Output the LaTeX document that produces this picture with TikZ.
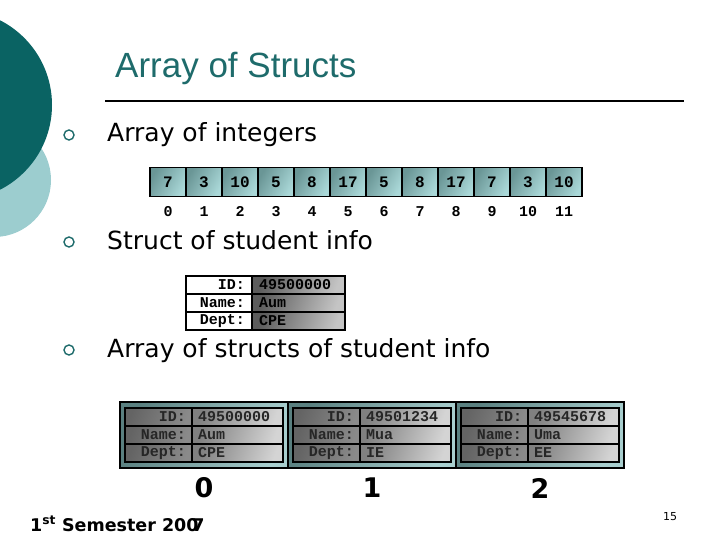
\documentclass[tikz,border=0pt]{standalone}
\usepackage{fontspec}
\setmainfont{DejaVu Sans}
\newfontfamily\titlef{Liberation Sans}
\newfontfamily\monof{Liberation Mono}
\definecolor{darkteal}{HTML}{0A6363}
\definecolor{lightteal}{HTML}{9CCDCF}
\definecolor{titleteal}{HTML}{1E6B6B}
\definecolor{celldark}{HTML}{6A9696}
\definecolor{celllight}{HTML}{AAD8D8}
\definecolor{graydark}{HTML}{5C5C5C}
\definecolor{graylight}{HTML}{C4C4C4}
\definecolor{labdark}{HTML}{646464}
\definecolor{lablight}{HTML}{8A8A8A}
\definecolor{valdark}{HTML}{808080}
\definecolor{vallight}{HTML}{D4D4D4}
\definecolor{framedark}{HTML}{5A8080}
\definecolor{framelight}{HTML}{A8CECE}
\definecolor{txtdark}{HTML}{262626}
\tikzset{
  bulletdot/.style={circle, draw=titleteal, line width=1.4pt, minimum size=10pt, inner sep=0pt},
  bullettext/.style={anchor=base west, inner sep=0pt, font=\fontsize{25}{30}\selectfont},
  intcell/.style={draw, line width=1.5pt, minimum width=36pt, minimum height=29pt, inner sep=0pt,
    left color=celldark, right color=celllight, shading angle=60,
    font=\monof\bfseries\fontsize{16}{16}\selectfont},
  idxtext/.style={anchor=base, inner sep=0pt, font=\monof\bfseries\fontsize{15}{15}\selectfont},
  slab/.style={draw, line width=1.5pt, fill=white, minimum height=18pt, inner ysep=0pt, inner xsep=7pt,
    text width=#1, align=right, font=\monof\bfseries\fontsize{15}{15}\selectfont},
  sval/.style={draw, line width=1.5pt, minimum height=18pt, inner ysep=0pt, inner xsep=7pt,
    left color=graydark, right color=graylight, shading angle=70,
    text width=#1, align=left, font=\monof\bfseries\fontsize{15}{15}\selectfont},
  alab/.style={draw, line width=1.5pt, minimum height=18pt, inner ysep=0pt, inner xsep=6pt,
    left color=labdark, right color=lablight, shading angle=70, text=txtdark,
    text width=#1, align=right, font=\monof\bfseries\fontsize{15}{15}\selectfont},
  aval/.style={draw, line width=1.5pt, minimum height=18pt, inner ysep=0pt, inner xsep=6pt,
    left color=valdark, right color=vallight, shading angle=70, text=txtdark,
    text width=#1, align=left, font=\monof\bfseries\fontsize{15}{15}\selectfont},
  sframe/.style={draw, line width=1.5pt, minimum width=168pt, minimum height=66pt, inner sep=0pt,
    left color=framedark, right color=framelight, shading angle=70},
  bignum/.style={inner sep=0pt, font=\bfseries\fontsize{27}{30}\selectfont}
}
\begin{document}
\begin{tikzpicture}[x=1pt,y=-1pt]
\useasboundingbox (0,0) rectangle (720,540);
\begin{scope}
\clip (0,0) rectangle (720,540);
\fill[lightteal] (-6,180) circle[radius=57pt];
\fill[darkteal] (-43,105) circle[radius=95pt];
\end{scope}

% title
\node[anchor=base west, inner sep=0pt, text=titleteal, font=\titlef\fontsize{35}{40}\selectfont] (title) at (115,78) {Array of Structs};
\draw[line width=2pt] (105,101) -- (684,101);

% bullets
\node[bulletdot] (b1) at (69,135) {};
\node[bulletdot] (b2) at (69,242) {};
\node[bulletdot] (b3) at (69,350) {};
\node[bullettext] (t1) at (107,142) {Array of integers};
\node[bullettext] (t2) at (107,249) {Struct of student info};
\node[bullettext] (t3) at (107,357) {Array of structs of student info};

% integer array
\foreach \v [count=\i from 0] in {7,3,10,5,8,17,5,8,17,7,3,10} {
  \node[intcell] (c\i) at (168+36*\i,182) {\v};
  \node[idxtext] (i\i) at (168+36*\i,217) {\i};
}

% single struct
\node[slab=52pt] (s1l) at (219,285) {ID:};
\node[slab=52pt] (s2l) at (219,303) {Name:};
\node[slab=52pt] (s3l) at (219,321) {Dept:};
\node[sval=79pt] (s1v) at (298.5,285) {49500000};
\node[sval=79pt] (s2v) at (298.5,303) {Aum};
\node[sval=79pt] (s3v) at (298.5,321) {CPE};

% array of structs
\foreach \fx/\vid/\vnm/\vdep/\k in {120/49500000/Aum/CPE/0, 288/49501234/Mua/IE/1, 456/49545678/Uma/EE/2} {
  \node[sframe] (f\k) at (\fx+84,435) {};
  \node[alab=55pt] (a\k l1) at (\fx+38.5,417) {ID:};
  \node[alab=55pt] (a\k l2) at (\fx+38.5,435) {Name:};
  \node[alab=55pt] (a\k l3) at (\fx+38.5,453) {Dept:};
  \node[aval=79pt] (a\k v1) at (\fx+117.5,417) {\vid};
  \node[aval=79pt] (a\k v2) at (\fx+117.5,435) {\vnm};
  \node[aval=79pt] (a\k v3) at (\fx+117.5,453) {\vdep};
  \node[bignum] (n\k) at (\fx+84,488) {\k};
}

% footer
\node[anchor=base west, inner sep=0pt, font=\bfseries\fontsize{17.5}{20}\selectfont] (foot) at (30,531) {1\textsuperscript{st} Semester 200\kern-0.35em 7};
\node[inner sep=0pt, font=\fontsize{11}{12}\selectfont] (pg) at (670,517) {15};
\end{tikzpicture}
\end{document}
